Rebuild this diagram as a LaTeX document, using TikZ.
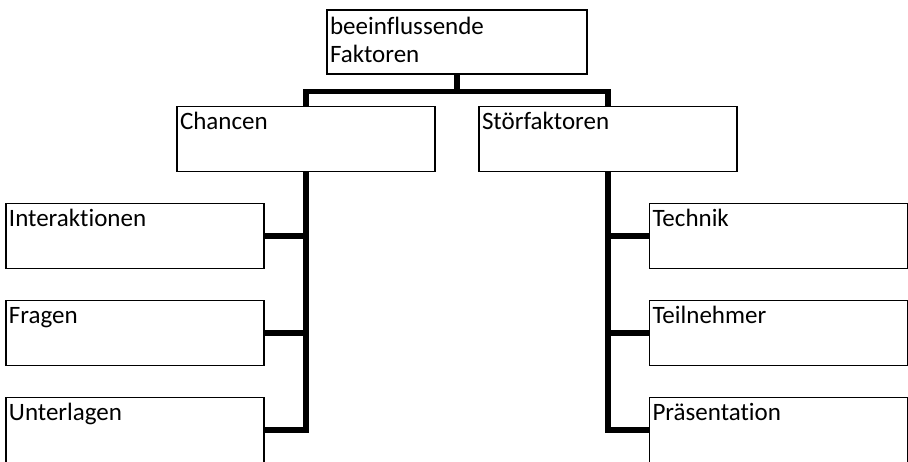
\documentclass[tikz,border=0pt]{standalone}
\usepackage{fontspec}
\setmainfont{Carlito}[Ligatures=NoCommon]
\usepackage{tikz}
\tikzstyle{kasten} = [draw, line width=1.6pt, rectangle, inner xsep=3pt, inner ysep=2pt, text width=252pt, align=left, text height=21pt, text depth=40pt, font=\fontsize{25}{28}\selectfont]
\tikzstyle{linie} = [line width=5.5pt]

\begin{document}
\begin{tikzpicture}[node distance=97pt, x=1pt, y=1pt]
		\useasboundingbox (0,0) rectangle (908,-461);

		\node (root) [kasten, text width=254pt, text height=22pt, text depth=38pt] at (457,-42) {beeinflussende\\Faktoren};
		\node (chancen) [kasten, below of=root, xshift=-151pt] {Chancen};
		\node (stoer) [kasten, below of=root, xshift=151pt] {Störfaktoren};

		\node (interakt) [kasten, below of=chancen, xshift=-171pt] {Interaktionen};
		\node (fragen) [kasten, below of=interakt] {Fragen};
		\node (unterl) [kasten, below of=fragen] {Unterlagen};

		\node (technik) [kasten, below of=stoer, xshift=170.5pt] {Technik};
		\node (teiln) [kasten, below of=technik] {Teilnehmer};
		\node (praes) [kasten, below of=teiln] {Präsentation};

		\draw [linie] (root.south) -- ++(0,-16.5) -| (chancen.north);
		\draw [linie] (root.south) -- ++(0,-16.5) -| (stoer.north);

		\draw [linie] (chancen.south) |- (unterl.east);
		\draw [linie] (interakt.east) -- (interakt.east -| chancen.south);
		\draw [linie] (fragen.east) -- (fragen.east -| chancen.south);

		\draw [linie] (stoer.south) |- (praes.west);
		\draw [linie] (technik.west) -- (technik.west -| stoer.south);
		\draw [linie] (teiln.west) -- (teiln.west -| stoer.south);
	\end{tikzpicture}
\end{document}
